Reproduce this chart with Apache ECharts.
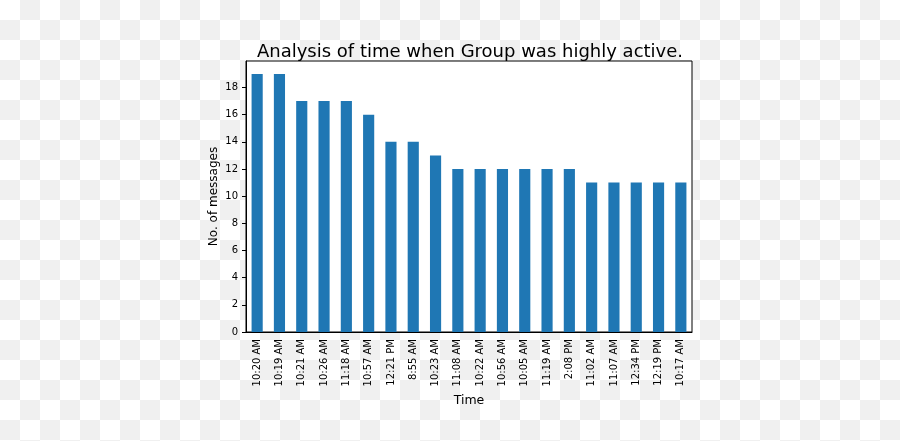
<!DOCTYPE html>
<html>
<head>
<meta charset="utf-8">
<script src="https://cdn.jsdelivr.net/npm/echarts@6/dist/echarts.min.js"></script>
<style>
  html, body { margin: 0; padding: 0; }
  body {
    width: 900px; height: 441px;
    background: repeating-conic-gradient(#f0f0f0 0 25%, #ffffff 0 50%) 0 0 / 40px 40px;
  }
  #main { width: 900px; height: 441px; }
</style>
</head>
<body>
<div id="main"></div>
<script>
// 数据
var times = ['10:20 AM', '10:19 AM', '10:21 AM', '10:26 AM', '11:18 AM', '10:57 AM', '12:21 PM',
  '8:55 AM', '10:23 AM', '11:08 AM', '10:22 AM', '10:56 AM', '10:05 AM', '11:19 AM', '2:08 PM',
  '11:02 AM', '11:07 AM', '12:34 PM', '12:19 PM', '10:17 AM'];
var messages = [19, 19, 17, 17, 17, 16, 14, 14, 13, 12, 12, 12, 12, 12, 12, 11, 11, 11, 11, 11];
var yTicks = [0, 2, 4, 6, 8, 10, 12, 14, 16, 18];

var font = 'DejaVu Sans';
var myChart = echarts.init(document.getElementById('main'));
myChart.setOption({
  backgroundColor: 'transparent',
  animation: false,
  title: {
    text: 'Analysis of time when Group was highly active.',
    left: 465,
    top: 38,
    textAlign: 'center',
    textStyle: { fontFamily: font, fontSize: 18, fontWeight: 'normal', color: '#000' }
  },
  grid: {
    left: 246, right: 208, top: 61, bottom: 109,
    show: true,
    backgroundColor: '#fff',
    borderColor: '#000',
    borderWidth: 1
  },
  xAxis: {
    type: 'category',
    data: times,
    name: 'Time',
    nameLocation: 'middle',
    nameGap: 57,
    nameTextStyle: { fontFamily: font, fontSize: 12.5, color: '#000' },
    axisLine: { lineStyle: { color: '#000', width: 1 } },
    axisTick: { alignWithLabel: true, length: 4, lineStyle: { color: '#000' } },
    axisLabel: { rotate: 90, fontFamily: font, fontSize: 10, color: '#000', margin: 7, interval: 0 }
  },
  yAxis: {
    type: 'value',
    min: 0,
    max: 19.95,
    name: 'No. of messages',
    nameLocation: 'middle',
    nameGap: 26,
    nameTextStyle: { fontFamily: font, fontSize: 12, color: '#000' },
    axisLine: { show: true, lineStyle: { color: '#000', width: 1 } },
    axisTick: { show: true, length: 4, customValues: yTicks, lineStyle: { color: '#000' } },
    axisLabel: { fontFamily: font, fontSize: 10, color: '#000', margin: 8, customValues: yTicks },
    splitLine: { show: false }
  },
  series: [{
    type: 'bar',
    data: messages,
    barWidth: '50%',
    itemStyle: { color: '#1f77b4' }
  }]
});
</script>
</body>
</html>
